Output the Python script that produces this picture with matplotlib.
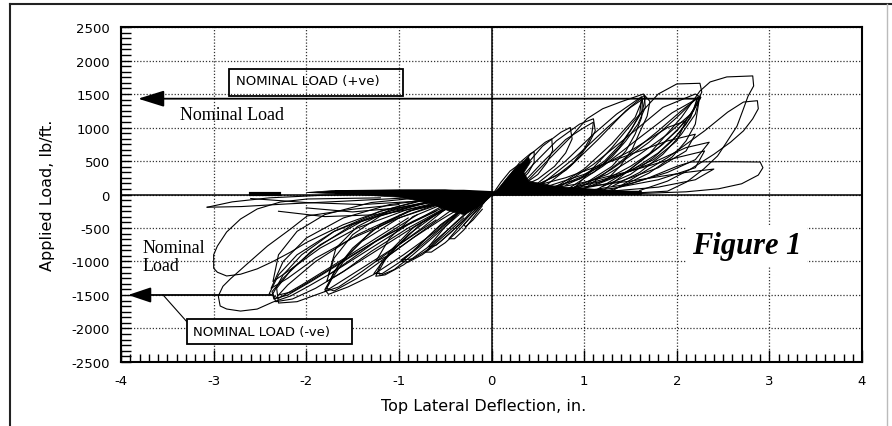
import matplotlib.pyplot as plt
from matplotlib.lines import Line2D
from matplotlib.patches import Rectangle
from matplotlib.ticker import MultipleLocator

plt.rcParams['axes.unicode_minus'] = False

# axis ticks
x_ticks = [-4, -3, -2, -1, 0, 1, 2, 3, 4]
y_ticks = [-2500, -2000, -1500, -1000, -500, 0, 500, 1000, 1500, 2000, 2500]

# hysteresis petals, (deflection in., load lb/ft)
pos_petals = [
    [(1.2, 50), (1.7, 600), (2.05, 1150), (2.25, 1545), (2.36, 1680), (2.54, 1755), (2.82, 1770),
     (2.83, 1620), (2.77, 1470), (2.72, 1280), (2.65, 1020), (2.54, 785), (2.44, 575), (2.29, 380),
     (2.11, 190), (1.9, 50), (1.4, 10)],
    [(1.3, 50), (1.9, 550), (2.3, 950), (2.55, 1230), (2.72, 1380), (2.87, 1400), (2.88, 1280),
     (2.82, 1130), (2.72, 950), (2.58, 780), (2.4, 600), (2.15, 380), (1.9, 200), (1.6, 60)],
    [(1.2, 30), (1.7, 250), (2.0, 420), (2.15, 485), (2.5, 490), (2.9, 485), (2.93, 400),
     (2.88, 290), (2.7, 160), (2.45, 85), (2.1, 40), (1.6, 15)],
    [(0.9, 100), (1.3, 700), (1.6, 1200), (1.8, 1500), (2.0, 1650), (2.25, 1660), (2.27, 1530),
     (2.2, 1300), (2.1, 1050), (1.95, 800), (1.75, 550), (1.5, 300), (1.2, 120)],
    [(1.0, 80), (1.4, 500), (1.8, 950), (2.05, 1250), (2.25, 1470), (2.2, 1200), (2.05, 900),
     (1.85, 600), (1.6, 330), (1.3, 120)],
    [(0.8, 60), (1.2, 420), (1.6, 850), (1.95, 1220), (2.22, 1430), (2.15, 1150), (2.0, 880),
     (1.8, 620), (1.5, 350), (1.1, 130)],
    [(1.1, 40), (1.5, 380), (1.85, 750), (2.1, 1100), (2.24, 1400), (2.2, 1050), (2.1, 800),
     (1.95, 560), (1.7, 320), (1.4, 120)],
    [(0.7, 80), (1.1, 450), (1.5, 900), (1.85, 1300), (2.2, 1500), (2.26, 1450), (2.15, 1200),
     (1.9, 900), (1.6, 600), (1.25, 300), (0.9, 120)],
    [(0.9, 60), (1.3, 380), (1.7, 780), (2.0, 1150), (2.23, 1460), (2.18, 1250), (2.0, 950),
     (1.8, 700), (1.5, 420), (1.2, 200)],
    [(0.3, 80), (0.6, 500), (0.85, 850), (1.03, 1130), (1.2, 1280), (1.39, 1380), (1.64, 1500),
     (1.71, 1390), (1.68, 1170), (1.6, 930), (1.52, 680), (1.39, 425), (1.25, 230), (1.0, 90),
     (0.6, 40)],
    [(0.4, 60), (0.8, 500), (1.1, 900), (1.35, 1200), (1.62, 1460), (1.6, 1200), (1.5, 950),
     (1.38, 700), (1.2, 450), (0.95, 230), (0.6, 90)],
    [(0.5, 40), (0.85, 420), (1.15, 820), (1.45, 1250), (1.65, 1480), (1.66, 1300), (1.58, 1050),
     (1.45, 800), (1.3, 560), (1.1, 330), (0.8, 140)],
    [(0.6, 30), (1.0, 380), (1.3, 760), (1.55, 1150), (1.63, 1420), (1.62, 1150), (1.55, 900),
     (1.45, 650), (1.3, 420), (1.05, 200)],
    [(0.45, 50), (0.9, 550), (1.25, 1000), (1.5, 1300), (1.66, 1450), (1.63, 1250), (1.52, 1000),
     (1.4, 760), (1.22, 500), (0.98, 270), (0.7, 110)],
    [(0.2, 60), (0.45, 450), (0.7, 800), (0.95, 1050), (1.1, 1130), (1.12, 950), (1.05, 760),
     (0.95, 560), (0.8, 360), (0.55, 180), (0.3, 70)],
    [(0.25, 40), (0.55, 480), (0.8, 820), (1.0, 1000), (1.1, 1080), (1.08, 880), (1.0, 680),
     (0.88, 470), (0.7, 280), (0.45, 120)],
    [(0.15, 50), (0.35, 400), (0.55, 720), (0.75, 930), (0.85, 1000), (0.87, 830), (0.8, 620),
     (0.68, 420), (0.5, 230), (0.3, 100)],
    [(0.1, 40), (0.25, 320), (0.42, 600), (0.58, 780), (0.65, 830), (0.66, 660), (0.6, 480),
     (0.5, 300), (0.35, 150), (0.2, 60)],
    [(0.05, 30), (0.18, 260), (0.3, 470), (0.42, 610), (0.46, 640), (0.46, 480), (0.4, 330),
     (0.3, 180), (0.18, 70)],
    [(0.02, 20), (0.1, 180), (0.2, 350), (0.3, 450), (0.31, 320), (0.25, 180), (0.15, 70)],
    [(0.2, 30), (0.8, 250), (1.4, 550), (1.9, 800), (2.2, 900), (2.1, 650), (1.8, 400),
     (1.4, 200), (0.9, 70)],
    [(0.3, 20), (0.9, 150), (1.5, 350), (2.0, 550), (2.3, 650), (2.2, 400), (1.8, 220),
     (1.3, 90), (0.8, 30)],
    [(0.2, 10), (0.8, 80), (1.5, 200), (2.1, 330), (2.4, 380), (2.2, 220), (1.8, 110), (1.2, 40)],
    [(0.4, 30), (1.0, 300), (1.5, 650), (1.9, 1000), (2.1, 1100), (2.0, 800), (1.75, 520),
     (1.4, 300), (0.9, 110)],
    [(0.6, 20), (1.2, 200), (1.7, 450), (2.1, 700), (2.35, 780), (2.2, 520), (1.9, 330),
     (1.5, 160), (1.0, 50)],
]

neg_petals = [
    [(-1.2, -50), (-1.99, -67), (-2.28, -112), (-2.53, -216), (-2.71, -366), (-2.86, -560),
     (-2.96, -770), (-3.0, -900), (-3.0, -1100), (-2.96, -1160), (-2.86, -1216), (-2.71, -1190),
     (-2.53, -1110), (-2.36, -1000), (-2.17, -860), (-1.99, -710), (-1.6, -450), (-1.2, -250),
     (-0.8, -100)],
    [(-1.0, -150), (-1.5, -220), (-1.99, -320), (-2.17, -515), (-2.42, -770), (-2.65, -1050),
     (-2.82, -1260), (-2.9, -1370), (-2.95, -1515), (-2.93, -1664), (-2.86, -1709), (-2.71, -1740),
     (-2.53, -1710), (-2.36, -1605), (-2.17, -1515), (-1.99, -1380), (-1.7, -1150), (-1.3, -800),
     (-0.9, -450), (-0.5, -150)],
    [(0.0, 0), (-0.6, -100), (-1.2, -280), (-1.7, -550), (-2.05, -900), (-2.25, -1200),
     (-2.36, -1480), (-2.33, -1600), (-2.15, -1560), (-1.9, -1400), (-1.6, -1150), (-1.2, -800),
     (-0.8, -450), (-0.4, -150)],
    [(-0.2, 0), (-0.8, -150), (-1.4, -400), (-1.85, -750), (-2.15, -1100), (-2.32, -1400),
     (-2.3, -1620), (-2.1, -1600), (-1.8, -1450), (-1.4, -1100), (-1.0, -750), (-0.6, -380)],
    [(-0.3, -20), (-1.0, -200), (-1.5, -450), (-1.95, -850), (-2.25, -1250), (-2.37, -1450),
     (-2.35, -1560), (-2.2, -1500), (-1.95, -1300), (-1.6, -1000), (-1.2, -650), (-0.8, -300)],
    [(-0.6, -40), (-1.2, -250), (-1.7, -550), (-2.1, -900), (-2.3, -1200), (-2.4, -1480),
     (-2.3, -1550), (-2.05, -1350), (-1.7, -1050), (-1.3, -700), (-0.9, -350)],
    [(-0.4, -30), (-1.1, -150), (-1.6, -350), (-2.0, -650), (-2.25, -1000), (-2.38, -1400),
     (-2.2, -1250), (-1.9, -950), (-1.5, -650), (-1.0, -350), (-0.5, -100)],
    [(-0.5, -10), (-1.3, -120), (-1.8, -300), (-2.1, -550), (-2.3, -900), (-2.36, -1300),
     (-2.15, -1100), (-1.85, -800), (-1.45, -500), (-0.9, -220), (-0.4, -60)],
    [(-0.2, -30), (-0.9, -250), (-1.45, -600), (-1.9, -1000), (-2.2, -1350), (-2.3, -1500),
     (-2.15, -1450), (-1.85, -1200), (-1.5, -900), (-1.1, -580), (-0.6, -250)],
    [(0.0, 0), (-0.5, -120), (-1.0, -350), (-1.4, -700), (-1.65, -1050), (-1.8, -1420),
     (-1.76, -1490), (-1.55, -1380), (-1.28, -1200), (-0.95, -900), (-0.6, -550), (-0.3, -200)],
    [(-0.3, -40), (-0.8, -200), (-1.2, -450), (-1.5, -800), (-1.7, -1150), (-1.78, -1400),
     (-1.7, -1440), (-1.45, -1250), (-1.15, -950), (-0.8, -600), (-0.45, -250)],
    [(-0.4, -70), (-0.9, -250), (-1.3, -550), (-1.55, -900), (-1.72, -1250), (-1.8, -1450),
     (-1.65, -1380), (-1.4, -1150), (-1.1, -850), (-0.75, -500), (-0.5, -220)],
    [(-0.2, -20), (-0.7, -120), (-1.2, -320), (-1.5, -600), (-1.7, -950), (-1.78, -1300),
     (-1.6, -1150), (-1.3, -850), (-0.9, -500), (-0.5, -200)],
    [(-0.1, -10), (-0.6, -80), (-1.1, -230), (-1.45, -480), (-1.68, -800), (-1.76, -1200),
     (-1.55, -1000), (-1.25, -700), (-0.85, -400), (-0.4, -120)],
    [(-0.1, -30), (-0.4, -150), (-0.75, -420), (-1.0, -750), (-1.2, -1050), (-1.25, -1220),
     (-1.15, -1200), (-0.95, -1050), (-0.7, -800), (-0.45, -500), (-0.2, -200)],
    [(-0.15, -20), (-0.5, -200), (-0.85, -500), (-1.1, -850), (-1.22, -1150), (-1.2, -1210),
     (-1.05, -1120), (-0.85, -900), (-0.6, -600), (-0.35, -300)],
    [(-0.2, -60), (-0.55, -250), (-0.9, -600), (-1.15, -950), (-1.27, -1180), (-1.18, -1180),
     (-0.98, -1000), (-0.75, -750), (-0.5, -450), (-0.25, -150)],
    [(-0.05, -10), (-0.45, -100), (-0.85, -330), (-1.1, -650), (-1.25, -1000), (-1.1, -900),
     (-0.85, -650), (-0.55, -380), (-0.25, -130)],
    [(-0.05, -20), (-0.3, -200), (-0.55, -450), (-0.8, -780), (-0.97, -1000), (-0.9, -1010),
     (-0.75, -900), (-0.55, -700), (-0.35, -450), (-0.15, -200)],
    [(-0.1, -40), (-0.35, -250), (-0.6, -520), (-0.85, -850), (-0.98, -980), (-0.85, -960),
     (-0.68, -820), (-0.5, -600), (-0.3, -350)],
    [(-0.03, -20), (-0.2, -180), (-0.4, -430), (-0.6, -700), (-0.72, -860), (-0.65, -860),
     (-0.5, -720), (-0.35, -530), (-0.2, -300), (-0.08, -120)],
    [(-0.1, -10), (-0.3, -200), (-0.5, -480), (-0.68, -780), (-0.6, -760), (-0.45, -580),
     (-0.3, -380), (-0.15, -150)],
    [(0.0, 0), (-0.12, -150), (-0.25, -330), (-0.38, -530), (-0.46, -660), (-0.4, -660),
     (-0.3, -530), (-0.2, -350), (-0.1, -170)],
    [(0.0, 0), (-0.1, -150), (-0.2, -300), (-0.3, -450), (-0.28, -480), (-0.2, -380), (-0.1, -220)],
]

# pinched branches running along zero load
pinch_lines = [
    [(-3.07, -190), (-2.8, -110), (-2.4, -50), (-1.8, -10), (-1.0, 10), (0.0, 0)],
    [(-3.07, -190), (-2.7, -180), (-2.2, -140), (-1.6, -100), (-0.9, -50), (0.0, 0)],
    [(-2.6, -60), (-2.0, -120), (-1.4, -150), (-0.8, -100), (0.0, 0)],
    [(-2.0, -200), (-1.5, -260), (-1.0, -200), (-0.5, -80), (0.0, 0)],
    [(-2.3, -250), (-1.8, -330), (-1.2, -300), (-0.6, -150), (0.0, 0)],
]
heavy_lines = [
    [(-2.6, 5), (-2.3, 5)],
    [(-1.67, 35), (-0.3, 40), (0.0, 20)],
    [(0.0, 15), (1.6, 25)],
]

# densest overdrawn areas near the origin, outlined from the picture
pos_core = [(0.0, -10), (0.08, 100), (0.18, 270), (0.28, 420), (0.4, 560), (0.42, 480), (0.35, 330),
            (0.4, 200), (0.7, 120), (1.2, 70), (1.6, 40), (1.6, 0), (0.0, -10)]
neg_core = [(0.0, 30), (-0.5, 70), (-1.0, 70), (-1.7, 60), (-2.0, 30), (-1.5, 0), (-1.0, -40),
            (-0.7, -120), (-0.45, -250), (-0.3, -300), (-0.15, -200), (0.0, -20)]

nominal_pos = 1430
nominal_neg = -1500
pos_arrow = (-3.816, 2.25)   # tip, line end
neg_arrow = (-3.924, -2.38)

fig = plt.figure(figsize=(8.92, 4.27), dpi=100)
ax = fig.add_axes([0.1357, 0.1499, 0.8307, 0.7845])

for verts in pos_petals + neg_petals + pinch_lines:
    xs, ys = zip(*verts)
    ax.plot(xs, ys, color='black', lw=0.8, zorder=3)
for verts in heavy_lines:
    xs, ys = zip(*verts)
    ax.plot(xs, ys, color='black', lw=3, zorder=3)
for verts in (pos_core, neg_core):
    xs, ys = zip(*verts)
    ax.fill(xs, ys, color='black', lw=0.5, zorder=3)

ax.set_xlim(-4, 4)
ax.set_ylim(-2500, 2500)
ax.set_xticks(x_ticks)
ax.set_yticks(y_ticks)
ax.xaxis.set_minor_locator(MultipleLocator(0.1))
ax.yaxis.set_minor_locator(MultipleLocator(500 / 6))
ax.tick_params(which='both', direction='in', top=False, right=False, labelsize=9.5, color='black')
ax.tick_params(axis='x', which='major', length=8.5, width=1, pad=9)
ax.tick_params(axis='x', which='minor', length=5.8, width=1)
ax.tick_params(axis='y', which='both', length=7.2, width=1, pad=8)
for s in ax.spines.values():
    s.set_linewidth(1.5)

ax.grid(True, which='major', linestyle=(0, (1, 1.5)), color='#333333', lw=0.9)
ax.axhline(0, color='black', lw=1.1, zorder=2)
ax.axvline(0, color='black', lw=1.1, zorder=2)

ax.set_xlabel('Top Lateral Deflection, in.', fontsize=11.5)
ax.set_ylabel('Applied Load, lb/ft.', fontsize=11.5)
ax.xaxis.set_label_coords(0.489, -0.108)
ax.yaxis.set_label_coords(-0.089, 0.5)

# nominal load lines with arrowheads
ax.annotate('', xy=(pos_arrow[0], nominal_pos), xytext=(pos_arrow[1], nominal_pos),
            arrowprops=dict(arrowstyle='-|>,head_length=1.6,head_width=0.5', mutation_scale=10,
                            color='black', lw=1.3, shrinkA=0, shrinkB=0), zorder=4)
ax.annotate('', xy=(neg_arrow[0], nominal_neg), xytext=(neg_arrow[1], nominal_neg),
            arrowprops=dict(arrowstyle='-|>,head_length=1.4,head_width=0.47', mutation_scale=10,
                            color='black', lw=1.3, shrinkA=0, shrinkB=0), zorder=4)

# callout boxes
ax.add_patch(Rectangle((-2.834, 1470), 1.879, 403, fill=False, ec='black', lw=1.3, zorder=5))
ax.text(-2.758, 1700, 'NOMINAL LOAD (+ve)', fontsize=9.5, va='center', ha='left', zorder=6)
ax.add_patch(Rectangle((-3.287, -2231), 1.782, 373, fc='white', ec='black', lw=1.3, zorder=5))
ax.text(-3.222, -2045, 'NOMINAL LOAD (-ve)', fontsize=9.5, va='center', ha='left', zorder=6)
ax.plot([-3.546, -3.287], [nominal_neg, -1903], color='black', lw=0.8, zorder=4)

ax.text(-3.363, 1187, 'Nominal Load', fontsize=13, family='Liberation Serif', va='center', ha='left')
ax.text(-3.773, -925, 'Nominal\nLoad', fontsize=13, family='Liberation Serif', va='center',
        ha='left', linespacing=1.05)
ax.text(2.76, -768, 'Figure 1', fontsize=22, family='Liberation Serif', weight='bold', style='italic',
        va='center', ha='center', zorder=6,
        bbox=dict(fc='white', ec='none', pad=4))

# outer frame of the figure
fig.add_artist(Line2D([10 / 892, 10 / 892], [0, 1 - 5 / 427], color='#222222', lw=1.5))
fig.add_artist(Line2D([10 / 892, 1], [1 - 5 / 427, 1 - 5 / 427], color='#222222', lw=1.5))
fig.add_artist(Line2D([887 / 892, 887 / 892], [0, 1 - 5 / 427], color='#bbbbbb', lw=1))

fig.savefig('out.png', dpi=100)
